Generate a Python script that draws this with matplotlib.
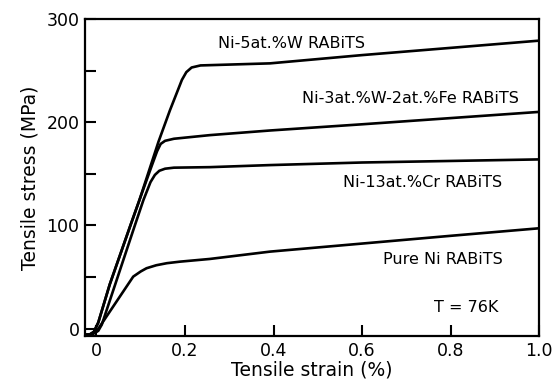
import matplotlib
matplotlib.use('Agg')
import matplotlib.pyplot as plt
from matplotlib.ticker import MultipleLocator

plt.rcParams['font.family'] = ['DejaVu Sans']

# 读图得到的数据 (应变 %, 应力 MPa)
w5_strain = [-0.026, -0.015, -0.006, 0.004, 0.03, 0.077, 0.097, 0.14, 0.166, 0.182, 0.193, 0.203, 0.215, 0.235, 0.392, 0.6, 0.8, 1.0]
w5_stress = [-6, -5.5, -3, 6, 43, 100.5, 124.6, 181, 211.6, 229, 241, 248.5, 253, 255, 257, 265, 272, 279]

fe_strain = [-0.026, -0.015, -0.006, 0.004, 0.03, 0.077, 0.097, 0.125, 0.137, 0.145, 0.155, 0.175, 0.256, 0.392, 0.6, 0.8, 1.0]
fe_stress = [-6, -5.5, -3, 6, 43, 100.5, 124.6, 158, 172, 179, 182, 184, 187.5, 192, 198, 204, 210]

cr_strain = [-0.026, -0.01, 0.004, 0.012, 0.04, 0.087, 0.106, 0.122, 0.132, 0.142, 0.155, 0.175, 0.256, 0.392, 0.6, 0.8, 1.0]
cr_stress = [-6, -5.5, -2, 4, 40, 100.5, 124.6, 142, 149, 153, 155, 156, 156.5, 158.5, 161, 162.5, 164]

ni_strain = [-0.026, -0.01, 0.0, 0.04, 0.083, 0.1, 0.113, 0.135, 0.159, 0.189, 0.256, 0.392, 0.6, 0.8, 1.0]
ni_stress = [-6, -5, -2.6, 23, 50.5, 55.5, 58.6, 61.5, 63.5, 65, 67.6, 74.7, 82.5, 90, 97.3]

labels = ['Ni-5at.%W RABiTS', 'Ni-3at.%W-2at.%Fe RABiTS', 'Ni-13at.%Cr RABiTS', 'Pure Ni RABiTS']
label_x = [0.275, 0.464, 0.557, 0.647]
label_y = [276, 223, 142, 66.7]

fig = plt.figure(figsize=(5.54, 3.87), dpi=100)
ax = fig.add_axes([0.1534, 0.1318, 0.8196, 0.8192])

for xs, ys in [(w5_strain, w5_stress), (fe_strain, fe_stress), (cr_strain, cr_stress), (ni_strain, ni_stress)]:
    ax.plot(xs, ys, color='black', lw=1.9, solid_joinstyle='round', solid_capstyle='round')

for t, x, y in zip(labels, label_x, label_y):
    ax.text(x, y, t, fontsize=11.5, ha='left', va='center')
ax.text(0.763, 21, 'T = 76K', fontsize=11.5, ha='left', va='center')

ax.set_xlim(-0.026, 1.0)
ax.set_ylim(-7, 300)
ax.set_xticks([0, 0.2, 0.4, 0.6, 0.8, 1.0])
ax.set_xticklabels(['0', '0.2', '0.4', '0.6', '0.8', '1.0'])
ax.set_yticks([0, 100, 200, 300])
ax.yaxis.set_minor_locator(MultipleLocator(50))
ax.tick_params(axis='both', which='both', direction='in', length=8, width=1.5, labelsize=12.5, pad=4)
for s in ax.spines.values():
    s.set_linewidth(1.6)

ax.set_xlabel('Tensile strain (%)', fontsize=13.5, fontweight='medium', labelpad=1)
ax.set_ylabel('Tensile stress (MPa)', fontsize=13.5, fontweight='medium', labelpad=5)

fig.savefig('out.png', dpi=100)
